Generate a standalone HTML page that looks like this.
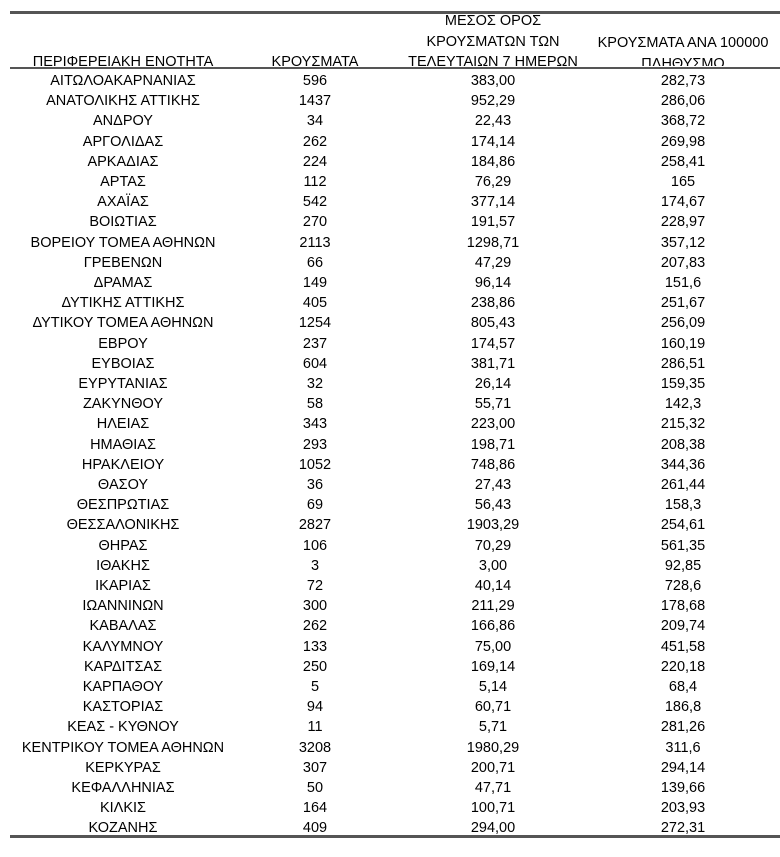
<!DOCTYPE html>
<html><head><meta charset="utf-8"><style>
body{margin:0;width:780px;height:857px;background:#fff;position:relative;overflow:hidden;font-family:"Liberation Sans","DejaVu Sans",sans-serif;color:#000;font-size:14.5px}
.r{position:absolute;left:0;width:780px;height:20px;line-height:20px}
.c{position:absolute;text-align:center;white-space:nowrap}
.c1{left:3px;width:240px}.c2{left:255px;width:120px}.c3{left:403px;width:180px}.c4{left:583px;width:200px}
.line{position:absolute;left:10px;right:0;background:#555}
.hd{position:absolute;left:0;top:0;width:780px;height:66px;overflow:hidden}
.h{position:absolute;text-align:center;white-space:nowrap;line-height:20.5px}
</style></head><body>
<div class="hd">
<div class="h" style="left:3px;width:240px;top:52px">ΠΕΡΙΦΕΡΕΙΑΚΗ ΕΝΟΤΗΤΑ</div>
<div class="h" style="left:255px;width:120px;top:52px">ΚΡΟΥΣΜΑΤΑ</div>
<div class="h" style="left:393px;width:200px;top:11px">ΜΕΣΟΣ ΟΡΟΣ<br>ΚΡΟΥΣΜΑΤΩΝ ΤΩΝ<br>ΤΕΛΕΥΤΑΙΩΝ 7 ΗΜΕΡΩΝ</div>
<div class="h" style="left:573px;width:220px;top:33px">ΚΡΟΥΣΜΑΤΑ ΑΝΑ 100000<br>ΠΛΗΘΥΣΜΟ</div>
</div>
<div class="line" style="top:11px;height:3px"></div>
<div class="line" style="top:67px;height:2px"></div>
<div class="line" style="top:835px;height:3px"></div>
<div id="rows"></div>
<script>
var d=[["ΑΙΤΩΛΟΑΚΑΡΝΑΝΙΑΣ","596","383,00","282,73"],["ΑΝΑΤΟΛΙΚΗΣ ΑΤΤΙΚΗΣ","1437","952,29","286,06"],["ΑΝΔΡΟΥ","34","22,43","368,72"],["ΑΡΓΟΛΙΔΑΣ","262","174,14","269,98"],["ΑΡΚΑΔΙΑΣ","224","184,86","258,41"],["ΑΡΤΑΣ","112","76,29","165"],["ΑΧΑΪΑΣ","542","377,14","174,67"],["ΒΟΙΩΤΙΑΣ","270","191,57","228,97"],["ΒΟΡΕΙΟΥ ΤΟΜΕΑ ΑΘΗΝΩΝ","2113","1298,71","357,12"],["ΓΡΕΒΕΝΩΝ","66","47,29","207,83"],["ΔΡΑΜΑΣ","149","96,14","151,6"],["ΔΥΤΙΚΗΣ ΑΤΤΙΚΗΣ","405","238,86","251,67"],["ΔΥΤΙΚΟΥ ΤΟΜΕΑ ΑΘΗΝΩΝ","1254","805,43","256,09"],["ΕΒΡΟΥ","237","174,57","160,19"],["ΕΥΒΟΙΑΣ","604","381,71","286,51"],["ΕΥΡΥΤΑΝΙΑΣ","32","26,14","159,35"],["ΖΑΚΥΝΘΟΥ","58","55,71","142,3"],["ΗΛΕΙΑΣ","343","223,00","215,32"],["ΗΜΑΘΙΑΣ","293","198,71","208,38"],["ΗΡΑΚΛΕΙΟΥ","1052","748,86","344,36"],["ΘΑΣΟΥ","36","27,43","261,44"],["ΘΕΣΠΡΩΤΙΑΣ","69","56,43","158,3"],["ΘΕΣΣΑΛΟΝΙΚΗΣ","2827","1903,29","254,61"],["ΘΗΡΑΣ","106","70,29","561,35"],["ΙΘΑΚΗΣ","3","3,00","92,85"],["ΙΚΑΡΙΑΣ","72","40,14","728,6"],["ΙΩΑΝΝΙΝΩΝ","300","211,29","178,68"],["ΚΑΒΑΛΑΣ","262","166,86","209,74"],["ΚΑΛΥΜΝΟΥ","133","75,00","451,58"],["ΚΑΡΔΙΤΣΑΣ","250","169,14","220,18"],["ΚΑΡΠΑΘΟΥ","5","5,14","68,4"],["ΚΑΣΤΟΡΙΑΣ","94","60,71","186,8"],["ΚΕΑΣ - ΚΥΘΝΟΥ","11","5,71","281,26"],["ΚΕΝΤΡΙΚΟΥ ΤΟΜΕΑ ΑΘΗΝΩΝ","3208","1980,29","311,6"],["ΚΕΡΚΥΡΑΣ","307","200,71","294,14"],["ΚΕΦΑΛΛΗΝΙΑΣ","50","47,71","139,66"],["ΚΙΛΚΙΣ","164","100,71","203,93"],["ΚΟΖΑΝΗΣ","409","294,00","272,31"]];
var h="";d.forEach(function(r,i){var t=71+i*20.2;h+='<div class="r" style="top:'+t+'px"><div class="c c1">'+r[0]+'</div><div class="c c2">'+r[1]+'</div><div class="c c3">'+r[2]+'</div><div class="c c4">'+r[3]+'</div></div>';});
document.getElementById("rows").innerHTML=h;
</script>
</body></html>
